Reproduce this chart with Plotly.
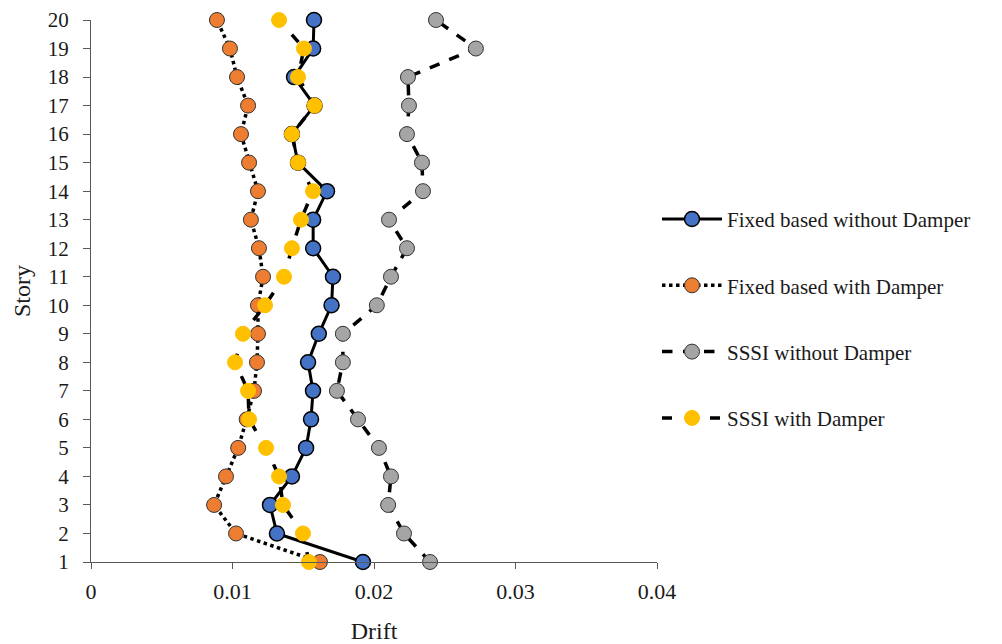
import plotly.graph_objects as go

stories = list(range(1, 21))

fixed_no_damper = [0.01922, 0.01314, 0.01265, 0.01420, 0.01520, 0.01555, 0.01569, 0.01534,
                   0.01610, 0.01700, 0.01710, 0.01570, 0.01570, 0.01668, 0.01463, 0.01420,
                   0.01580, 0.01435, 0.01570, 0.01576]
fixed_damper = [0.01618, 0.01025, 0.00870, 0.00954, 0.01040, 0.01100, 0.01152, 0.01173,
                0.01180, 0.01180, 0.01216, 0.01187, 0.01130, 0.01180, 0.01117, 0.01060,
                0.01110, 0.01032, 0.00982, 0.00890]
sssi_no_damper = [0.02396, 0.02212, 0.02100, 0.02120, 0.02035, 0.01887, 0.01738, 0.01780,
                  0.01780, 0.02020, 0.02120, 0.02233, 0.02106, 0.02346, 0.02339, 0.02233,
                  0.02247, 0.02240, 0.02720, 0.02438]
sssi_damper = [0.01540, 0.01498, 0.01357, 0.01329, 0.01237, 0.01117, 0.01110, 0.01018,
               0.01074, 0.01230, 0.01364, 0.01420, 0.01484, 0.01569, 0.01463, 0.01420,
               0.01580, 0.01463, 0.01505, 0.01329]

series_names = ["Fixed based without Damper", "Fixed based with Damper",
                "SSSI without Damper", "SSSI with Damper"]

font_family = "Liberation Serif, Times New Roman, serif"

fig = go.Figure()

fig.add_trace(go.Scatter(
    x=fixed_no_damper, y=stories, name=series_names[0], mode="lines+markers",
    legendgroup="g1",
    line=dict(color="black", width=3, dash="solid"),
    marker=dict(size=15, color="#4472C4", line=dict(color="black", width=1.5)),
    cliponaxis=False))
fig.add_trace(go.Scatter(
    x=fixed_damper, y=stories, name=series_names[1], mode="lines+markers",
    legendgroup="g2",
    line=dict(color="black", width=3.5, dash="dot"),
    marker=dict(size=15, color="#ED7D31", line=dict(color="#333333", width=1)),
    cliponaxis=False))
fig.add_trace(go.Scatter(
    x=sssi_no_damper, y=stories, name=series_names[2], mode="lines+markers",
    legendgroup="g3",
    line=dict(color="black", width=3.5, dash="dash"),
    marker=dict(size=15, color="#A5A5A5", line=dict(color="#333333", width=1)),
    cliponaxis=False))
fig.add_trace(go.Scatter(
    x=sssi_damper, y=stories, name=series_names[3], mode="lines+markers",
    legendgroup="g4",
    line=dict(color="black", width=3.5, dash="10px,14px"),
    marker=dict(size=15, color="#FFC000", line=dict(color="#FFC000", width=1)),
    cliponaxis=False))

fig.update_layout(
    width=1002, height=644,
    paper_bgcolor="white", plot_bgcolor="white",
    margin=dict(l=91, r=345, t=20, b=82, autoexpand=False),
    font=dict(family=font_family, size=22, color="#1a1a1a"),
    showlegend=True,
    legend=dict(x=1.0, xanchor="left", y=0.67, yanchor="top",
                font=dict(family=font_family, size=21, color="#1a1a1a"),
                tracegroupgap=36, itemwidth=60, bgcolor="rgba(0,0,0,0)",
                traceorder="grouped"),
    xaxis=dict(range=[0, 0.04], tickvals=[0, 0.01, 0.02, 0.03, 0.04],
               ticktext=["0", "0.01", "0.02", "0.03", "0.04"],
               showgrid=False, zeroline=False, showline=True, linecolor="#595959",
               linewidth=1, ticks="outside", ticklen=6, tickcolor="#595959",
               tickfont=dict(size=22), ticklabelstandoff=4, automargin=False,
               title=dict(text="Drift", font=dict(size=24), standoff=18)),
    yaxis=dict(range=[1, 20], tickvals=stories,
               showgrid=False, zeroline=False, showline=True, linecolor="#595959",
               linewidth=1, ticks="outside", ticklen=7, tickcolor="#595959",
               tickfont=dict(size=21), ticklabelstandoff=10, automargin=False,
               title=dict(text="Story", font=dict(size=24), standoff=10)),
)

fig.write_html("out.html")
